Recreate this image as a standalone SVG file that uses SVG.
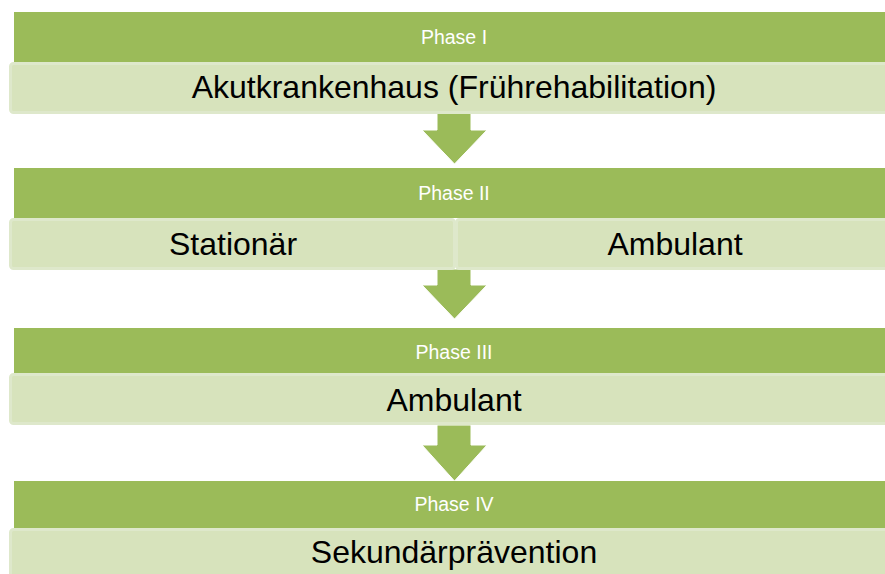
<svg xmlns="http://www.w3.org/2000/svg" width="885" height="574" viewBox="0 0 885 574">
<style>
.bar{fill:#9BBB59;}
.box{fill:#D7E3BC;stroke:#DEE8CB;stroke-width:3;}
.arrow{fill:#9BBB59;stroke:#FFFFFF;stroke-width:1;}
.ph{font-family:"Liberation Sans",Arial,sans-serif;font-size:19.5px;fill:#FFFFFF;text-anchor:middle;}
.main{font-family:"Liberation Sans",Arial,sans-serif;font-size:32px;fill:#000000;text-anchor:middle;}
</style>
<rect width="885" height="574" fill="#FFFFFF"/>
<g id="connectors">
<path class="arrow" d="M437,112 H471 V130 H487 L454.5,164 L422,130 H437 Z"/>
<path class="arrow" d="M437,269 H471 V285 H487 L454.5,319 L422,285 H437 Z"/>
<path class="arrow" d="M437,425 H471 V445 H487 L454.5,481 L422,445 H437 Z"/>
</g>
<g id="phase1">
<rect class="bar" x="14" y="12" width="871" height="50"/>
<text class="ph" x="454" y="44">Phase I</text>
<rect class="box" x="10.5" y="63.5" width="880" height="49" rx="3"/>
<text class="main" x="454" y="98">Akutkrankenhaus (Frührehabilitation)</text>
</g>
<g id="phase2">
<rect class="bar" x="14" y="168" width="871" height="50"/>
<text class="ph" x="454" y="200">Phase II</text>
<rect class="box" x="10.5" y="219.5" width="444" height="49" rx="3"/>
<rect class="box" x="456.5" y="219.5" width="434" height="49" rx="3"/>
<text class="main" x="233" y="255">Stationär</text>
<text class="main" x="675" y="255">Ambulant</text>
</g>
<g id="phase3">
<rect class="bar" x="14" y="328" width="871" height="45"/>
<text class="ph" x="454" y="359">Phase III</text>
<rect class="box" x="10.5" y="374.5" width="880" height="49" rx="3"/>
<text class="main" x="454" y="411">Ambulant</text>
</g>
<g id="phase4">
<rect class="bar" x="14" y="481" width="871" height="47"/>
<text class="ph" x="454" y="511">Phase IV</text>
<rect class="box" x="10.5" y="529.5" width="880" height="49" rx="3"/>
<text class="main" x="454" y="563">Sekundärprävention</text>
</g>
</svg>
